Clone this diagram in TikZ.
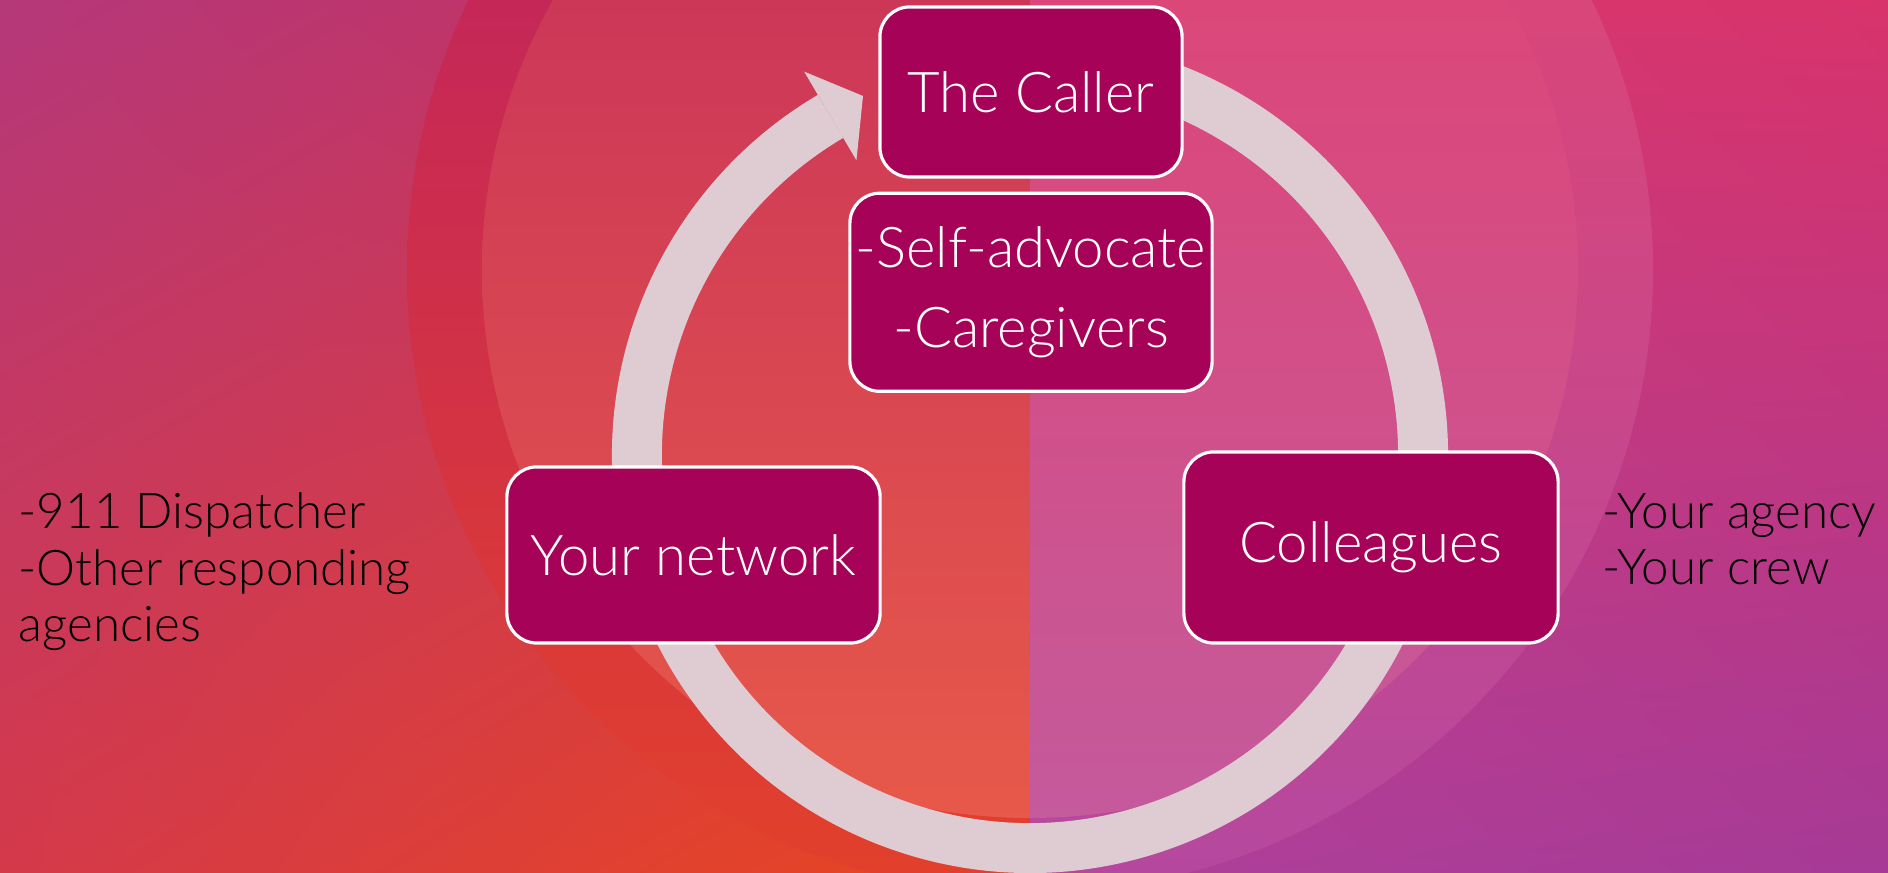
\documentclass[tikz,border=0pt]{standalone}
\usepackage{fontspec}
\setmainfont{Lato Light}
\usetikzlibrary{positioning, shadings}
\definecolor{stage fill}{HTML}{A60258}
\definecolor{ring}{HTML}{DFCCD3}
% background tones
\definecolor{warm nw}{HTML}{B5387A}
\definecolor{warm ne}{HTML}{C93058}
\definecolor{warm sw}{HTML}{D4394A}
\definecolor{warm se}{HTML}{E8461F}
\definecolor{cool nw}{HTML}{D63A6E}
\definecolor{cool ne}{HTML}{D8336B}
\definecolor{cool sw}{HTML}{B0409A}
\definecolor{cool se}{HTML}{A63A96}
\definecolor{halo warm top}{HTML}{C52758}
\definecolor{halo warm low}{HTML}{E2402C}
\definecolor{halo cool top}{HTML}{D94679}
\definecolor{halo cool low}{HTML}{B5489E}
\definecolor{disc warm top}{HTML}{CC3758}
\definecolor{disc warm low}{HTML}{E95B49}
\definecolor{disc cool top}{HTML}{DC4779}
\definecolor{disc cool low}{HTML}{C35B9E}
\tikzset{
  stage/.style={draw=white, line width=0.9pt, fill=stage fill, rounded corners=8.5pt,
    text=white, align=center, inner sep=0pt, font=\fontsize{16}{22.8}\selectfont},
  aside/.style={align=left, inner sep=0pt, font=\fontsize{14}{16.2}\selectfont},
  cycle arrow/.style={draw=ring, line width=14.2pt},
}

\begin{document}
\begin{tikzpicture}[x=0.01cm, y=0.01cm]
    \useasboundingbox (0,0) rectangle (1888,873);
    \coordinate (hub) at (1030,418);
    \coordinate (glow) at (1030,603);
    \coordinate (tip) at (863,777);
    % background: two halves and two big discs
    \begin{scope}
    \clip (0,0) rectangle (1888,873);
    \shade[upper left=warm nw, upper right=warm ne, lower left=warm sw, lower right=warm se]
        (0,0) rectangle (1030,873);
    \shade[upper left=cool nw, upper right=cool ne, lower left=cool sw, lower right=cool se]
        (1030,0) rectangle (1888,873);
    \begin{scope}
        \clip (glow) circle[radius=623];
        \shade[top color=halo warm top, bottom color=halo warm low] (0,0) rectangle (1030,873);
        \shade[top color=halo cool top, bottom color=halo cool low] (1030,0) rectangle (1888,873);
    \end{scope}
    \begin{scope}
        \clip (glow) circle[radius=548];
        \shade[top color=disc warm top, bottom color=disc warm low] (0,0) rectangle (1030,873);
        \shade[top color=disc cool top, bottom color=disc cool low] (1030,0) rectangle (1888,873);
    \end{scope}
    \end{scope}

    % the cycle arrow
    \draw[cycle arrow] (hub) ++(70:393) arc[start angle=70, end angle=-239.5, radius=393];
    \fill[ring] ([shift={(120.5:342)}]hub) -- (tip) -- ([shift={(120.5:445)}]hub) -- cycle;

    % stages
    \node[stage, minimum width=3.02cm, minimum height=1.70cm] (caller) at (1031,781) {The Caller};
    \node[stage, minimum width=3.62cm, minimum height=1.98cm, below=0.13cm of caller] (advocate)
        {-Self-advocate\\-Caregivers};
    \node[stage, minimum width=3.73cm, minimum height=1.76cm] (network) at (693.5,318) {Your network};
    \node[stage, minimum width=3.74cm, minimum height=1.91cm] (colleagues) at (1371,325.5) {Colleagues};

    % side notes (base is the last line)
    \node[aside, anchor=base west] (dispatch) at (18,231) {-911 Dispatcher\\-Other responding\\agencies};
    \node[aside, anchor=base west] (crew) at (1602,288) {-Your agency\\-Your crew};
\end{tikzpicture}
\end{document}
